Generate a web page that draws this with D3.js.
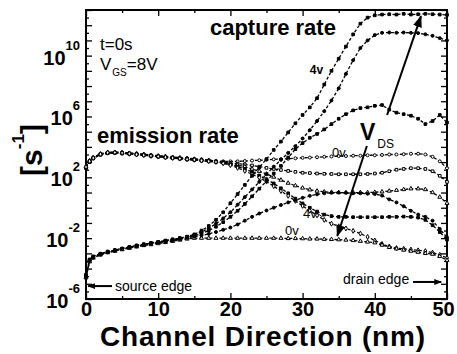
<!DOCTYPE html>
<html>
<head>
<meta charset="utf-8">
<script src="https://cdn.jsdelivr.net/npm/d3@7"></script>
<style>
  html, body { margin: 0; padding: 0; background: #fff; }
  svg { display: block; font-family: "Liberation Sans", Arial, Helvetica, sans-serif; }
</style>
</head>
<body>
<svg id="chart" width="457" height="354"></svg>
<script>
// Position along the channel (nm), source at 0, drain at 50
const positionNm = [0,0.5,1,2,3,4,5,6,7,8,9,10,11,12,13,14,15,16,17,18,19,20,21,22,23,24,25,26,27,28,29,30,31,32,33,34,35,36,37,38,39,40,41,42,43,44,45,46,47,48,49,50];

// Emission rate, log10(s^-1), one array per drain bias
const emissionLog0V = [2.7,3.1,3.3,3.55,3.65,3.66,3.64,3.6,3.57,3.52,3.47,3.42,3.37,3.33,3.3,3.26,3.22,3.18,3.13,3.08,
  3.05,3.05,3.05,3.07,3.1,3.12,3.15,3.18,3.2,3.22,3.25,3.28,3.3,3.32,3.35,3.37,3.4,3.4,3.42,3.42,3.45,3.45,3.47,3.5,3.5,3.52,3.55,3.55,3.5,3.35,3.05,2.6];
const emissionLog1V = [2.65,3.05,3.28,3.5,3.6,3.62,3.6,3.56,3.52,3.48,3.43,3.38,3.33,3.28,3.24,3.2,3.16,3.12,3.08,3.03,
  3.0,2.95,2.9,2.85,2.78,2.7,2.62,2.55,2.48,2.42,2.36,2.3,2.28,2.25,2.23,2.22,2.2,2.2,2.2,2.2,2.22,2.25,2.3,2.4,2.5,2.55,2.6,2.6,2.55,2.4,2.1,1.7];
const emissionLog2V = [2.7,3.08,3.3,3.53,3.63,3.64,3.62,3.58,3.54,3.5,3.44,3.4,3.36,3.31,3.27,3.23,3.19,3.15,3.11,3.05,
  2.98,2.9,2.8,2.7,2.55,2.4,2.22,2.02,1.82,1.62,1.45,1.3,1.18,1.1,1.05,1.02,1.0,1.0,1.0,1.0,1.0,1.02,1.05,1.1,1.15,1.2,1.25,1.25,1.2,1.0,0.7,0.3];
const emissionLog3V = [2.6,3.0,3.25,3.48,3.58,3.6,3.57,3.53,3.49,3.45,3.4,3.35,3.3,3.26,3.22,3.17,3.13,3.09,3.05,3.0,
  2.95,2.85,2.7,2.55,2.35,2.12,1.88,1.6,1.28,0.95,0.6,0.28,0.0,-0.25,-0.45,-0.55,-0.6,-0.6,-0.62,-0.62,-0.62,-0.62,-0.62,-0.6,-0.6,-0.58,-0.6,-0.65,-0.8,-1.15,-1.6,-2.1];
const emissionLog4V = [2.68,3.06,3.27,3.52,3.62,3.63,3.6,3.55,3.5,3.46,3.41,3.37,3.32,3.27,3.23,3.19,3.15,3.1,3.06,3.01,
  2.92,2.8,2.62,2.42,2.2,1.98,1.72,1.42,1.1,0.78,0.45,0.12,-0.2,-0.5,-0.8,-1.05,-1.22,-1.36,-1.52,-1.7,-1.92,-2.15,-2.38,-2.55,-2.65,-2.7,-2.75,-2.8,-2.85,-2.95,-3.1,-3.3];

// Capture rate, log10(s^-1), one array per drain bias
const captureLog0V = [-4.6,-3.55,-3.3,-3.1,-2.95,-2.85,-2.75,-2.66,-2.57,-2.48,-2.42,-2.35,-2.28,-2.2,-2.12,-2.05,
  -2.0,-2.0,-2.0,-2.0,-2.0,-2.0,-2.0,-2.0,-2.0,-2.0,-2.0,-2.0,-2.0,-2.02,-2.02,-2.03,-2.05,-2.05,-2.07,-2.08,
  -2.1,-2.12,-2.15,-2.2,-2.25,-2.3,-2.45,-2.6,-2.7,-2.78,-2.85,-2.92,-3.0,-3.05,-3.2,-3.45];
const captureLog1V = [-4.5,-3.45,-3.25,-3.05,-2.9,-2.8,-2.7,-2.6,-2.5,-2.42,-2.35,-2.27,-2.2,-2.12,-2.04,-1.97,
  -1.9,-1.82,-1.72,-1.6,-1.45,-1.3,-1.1,-0.85,-0.6,-0.38,-0.18,0.0,0.18,0.35,0.5,0.65,0.78,0.88,0.95,0.98,
  1.0,0.98,0.95,0.95,0.92,0.9,0.8,0.55,0.35,0.1,-0.2,-0.45,-0.6,-0.85,-1.4,-1.95];
const captureLog2V = [-4.4,-3.4,-3.2,-3.02,-2.88,-2.78,-2.68,-2.58,-2.48,-2.4,-2.32,-2.24,-2.16,-2.08,-2.0,-1.92,
  -1.85,-1.7,-1.5,-1.25,-0.95,-0.6,-0.2,0.25,0.75,1.25,1.75,2.25,2.75,3.3,3.85,4.25,4.6,4.85,5.15,5.5,
  5.85,6.15,6.4,6.55,6.6,6.7,6.75,6.45,6.25,6.15,6.05,5.85,5.5,5.7,6.1,5.6];
const captureLog3V = [-4.55,-3.5,-3.28,-3.08,-2.93,-2.83,-2.72,-2.62,-2.53,-2.45,-2.37,-2.29,-2.21,-2.13,-2.05,-1.96,
  -1.8,-1.6,-1.35,-1.05,-0.7,-0.3,0.2,0.7,1.2,1.7,2.2,2.7,3.15,3.6,4.05,4.55,5.1,5.7,6.35,7.05,
  7.85,8.8,9.7,10.5,11.0,11.35,11.5,11.52,11.5,11.52,11.5,11.48,11.4,11.3,11.15,11.0];
const captureLog4V = [-4.45,-3.42,-3.22,-3.04,-2.9,-2.8,-2.7,-2.6,-2.5,-2.41,-2.33,-2.25,-2.17,-2.09,-2.0,-1.9,
  -1.75,-1.5,-1.2,-0.8,-0.3,0.3,0.9,1.5,2.1,2.65,3.2,3.8,4.35,4.95,5.55,6.1,6.6,7.2,8.1,9.0,
  9.8,10.6,11.4,12.1,12.5,12.65,12.7,12.72,12.7,12.75,12.7,12.72,12.75,12.72,12.7,12.68];

// Axis ticks
const xTickMajor = [0, 10, 20, 30, 40, 50];
const xTickMinor = [5, 15, 25, 35, 45];
const yLabelExponents = [-6, -2, 2, 6, 10];

const plot = { left: 86, right: 447, top: 10, bottom: 299 };

const svg = d3.select("#chart");
const x = d3.scaleLinear().domain([0, 50]).range([plot.left, plot.right]);
const y = d3.scaleLog().domain([1e-6, 1e13]).range([plot.bottom, plot.top]);
const pw = v => Math.pow(10, v);

// ---------- axes ----------
const decadeTicks = d3.range(-6, 14).map(pw);
const halfDecadeTicks = d3.range(-6, 13).map(e => pw(e + 0.5));

function styleAxis(g) {
  g.select(".domain").remove();
  g.selectAll(".tick line").attr("stroke", "#000").attr("stroke-width", 1.3);
}

svg.append("g").attr("transform", `translate(0,${plot.bottom})`)
  .call(d3.axisBottom(x).tickValues(xTickMajor).tickSize(-6).tickPadding(3).tickFormat(d3.format("d")))
  .call(styleAxis)
  .call(g => g.selectAll("text")
    .attr("fill", "#000").style("font-size", "20px").style("font-weight", "bold")
    .attr("dx", d => d === 50 ? -4 : 0));
svg.append("g").attr("transform", `translate(0,${plot.bottom})`)
  .call(d3.axisBottom(x).tickValues(xTickMinor).tickSize(-3).tickFormat(""))
  .call(styleAxis);
svg.append("g").attr("transform", `translate(0,${plot.top})`)
  .call(d3.axisTop(x).tickValues(xTickMajor).tickSize(-6).tickFormat(""))
  .call(styleAxis);
svg.append("g").attr("transform", `translate(0,${plot.top})`)
  .call(d3.axisTop(x).tickValues(xTickMinor).tickSize(-3).tickFormat(""))
  .call(styleAxis);

svg.append("g").attr("transform", `translate(${plot.left},0)`)
  .call(d3.axisLeft(y).tickValues(decadeTicks).tickSize(-6).tickFormat(""))
  .call(styleAxis);
svg.append("g").attr("transform", `translate(${plot.left},0)`)
  .call(d3.axisLeft(y).tickValues(halfDecadeTicks).tickSize(-3).tickFormat(""))
  .call(styleAxis);
svg.append("g").attr("transform", `translate(${plot.right},0)`)
  .call(d3.axisRight(y).tickValues(decadeTicks).tickSize(-6).tickFormat(""))
  .call(styleAxis);
svg.append("g").attr("transform", `translate(${plot.right},0)`)
  .call(d3.axisRight(y).tickValues(halfDecadeTicks).tickSize(-3).tickFormat(""))
  .call(styleAxis);

// y tick labels as powers of ten
const yLab = svg.append("g");
yLabelExponents.forEach(e => {
  const t = yLab.append("text")
    .attr("x", 80).attr("y", y(pw(e)) + 9)
    .attr("text-anchor", "end")
    .style("font-size", "20px").style("font-weight", "bold");
  t.append("tspan").text("10");
  t.append("tspan").attr("dy", -15).style("font-size", "13px").text(e < 0 ? "-" + (-e) : String(e));
});

// frame
svg.append("rect")
  .attr("x", plot.left).attr("y", plot.top)
  .attr("width", plot.right - plot.left).attr("height", plot.bottom - plot.top)
  .attr("fill", "none").attr("stroke", "#000").attr("stroke-width", 2);

// axis titles
svg.append("text")
  .attr("x", 100).attr("y", 346)
  .attr("textLength", 325).attr("lengthAdjust", "spacing")
  .style("font-size", "28px").style("font-weight", "bold")
  .text("Channel Direction (nm)");

const yTitle = svg.append("text")
  .attr("transform", "translate(42,150) rotate(-90)")
  .attr("text-anchor", "middle")
  .style("font-size", "30px").style("font-weight", "bold");
yTitle.append("tspan").text("[s");
yTitle.append("tspan").attr("dy", -18).style("font-size", "17px").text("-1");
yTitle.append("tspan").attr("dy", 18).text("]");

// ---------- curves ----------
const series = [
  { values: emissionLog0V, symbol: d3.symbolCircle,   filled: false },
  { values: emissionLog1V, symbol: d3.symbolSquare,   filled: false },
  { values: emissionLog2V, symbol: d3.symbolTriangle, filled: false },
  { values: emissionLog3V, symbol: d3.symbolSquare,   filled: true  },
  { values: emissionLog4V, symbol: d3.symbolDiamond,  filled: false },
  { values: captureLog0V,  symbol: d3.symbolTriangle, filled: false },
  { values: captureLog1V,  symbol: d3.symbolCircle,   filled: true  },
  { values: captureLog2V,  symbol: d3.symbolSquare,   filled: true  },
  { values: captureLog3V,  symbol: d3.symbolCircle,   filled: true  },
  { values: captureLog4V,  symbol: d3.symbolSquare,   filled: true  }
];

const line = d3.line()
  .x((d, i) => x(positionNm[i]))
  .y(d => y(pw(d)));

const curves = svg.append("g");
series.forEach(s => {
  curves.append("path")
    .attr("d", line(s.values))
    .attr("fill", "none").attr("stroke", "#000")
    .attr("stroke-width", 1.3).attr("stroke-dasharray", "3,2");
  curves.append("g").selectAll("path")
    .data(s.values)
    .join("path")
    .attr("transform", (d, i) => `translate(${x(positionNm[i])},${y(pw(d))})`)
    .attr("d", d3.symbol().type(s.symbol).size(7))
    .attr("fill", s.filled ? "#000" : "#fff")
    .attr("stroke", "#000").attr("stroke-width", 1);
});

// ---------- annotations ----------
const defs = svg.append("defs");
defs.append("marker").attr("id", "bigHead")
  .attr("viewBox", "0 0 12 9").attr("refX", 11).attr("refY", 4.5)
  .attr("markerUnits", "userSpaceOnUse").attr("markerWidth", 12).attr("markerHeight", 9)
  .attr("orient", "auto")
  .append("path").attr("d", "M0,0 L12,4.5 L0,9 Z").attr("fill", "#000");
defs.append("marker").attr("id", "smallHead")
  .attr("viewBox", "0 0 8 6").attr("refX", 7).attr("refY", 3)
  .attr("markerUnits", "userSpaceOnUse").attr("markerWidth", 8).attr("markerHeight", 6)
  .attr("orient", "auto")
  .append("path").attr("d", "M0,0 L8,3 L0,6 Z").attr("fill", "#000");

function arrow(x0, e0, x1, e1, head, w) {
  svg.append("line")
    .attr("x1", x(x0)).attr("y1", y(pw(e0)))
    .attr("x2", x(x1)).attr("y2", y(pw(e1)))
    .attr("stroke", "#000").attr("stroke-width", w)
    .attr("marker-end", `url(#${head})`);
}
// rising capture rate with drain bias
arrow(41.7, 6.1, 46.4, 12.6, "bigHead", 2);
// falling emission rate with drain bias
arrow(38.9, 4.06, 34.8, -1.86, "bigHead", 2);
// channel edges
arrow(3.6, -5.15, 0.3, -5.15, "smallHead", 2);
arrow(45.3, -4.88, 49.2, -4.88, "smallHead", 2);

function label(xv, e, str, size, weight) {
  return svg.append("text")
    .attr("x", x(xv)).attr("y", y(pw(e)))
    .style("font-size", size + "px").style("font-weight", weight || "normal")
    .text(str);
}
label(17.17, 11.36, "capture rate", 22, "bold");
label(1.52, 4.26, "emission rate", 22, "bold");
label(1.94, 10.37, "t=0s", 17);
const vgs = label(1.94, 9.06, "", 17);
vgs.append("tspan").text("V");
vgs.append("tspan").attr("dx", 1).attr("dy", 6).style("font-size", "10px").text("GS");
vgs.append("tspan").attr("dy", -6).text("=8V");

label(31.0, 8.79, "4v", 12, "bold");
label(34.07, 3.34, "0v", 13);
label(30.06, -0.67, "4v", 13);
label(27.56, -1.79, "0v", 13);
// leader from the lower 4v label to its curve
svg.append("path")
  .attr("d", `M${x(31.6)},${y(pw(-0.38))} q3,-2 5,1 t5,1`)
  .attr("fill", "none").attr("stroke", "#000").attr("stroke-width", 1);

const vds = label(37.95, 4.45, "", 23, "bold");
vds.append("tspan").text("V");
vds.append("tspan").attr("dx", 2).attr("dy", 8).style("font-size", "12px").style("font-weight", "normal").text("DS");

label(4.02, -5.47, "source edge", 14);
label(35.6, -5.01, "drain edge", 14);
</script>
</body>
</html>
